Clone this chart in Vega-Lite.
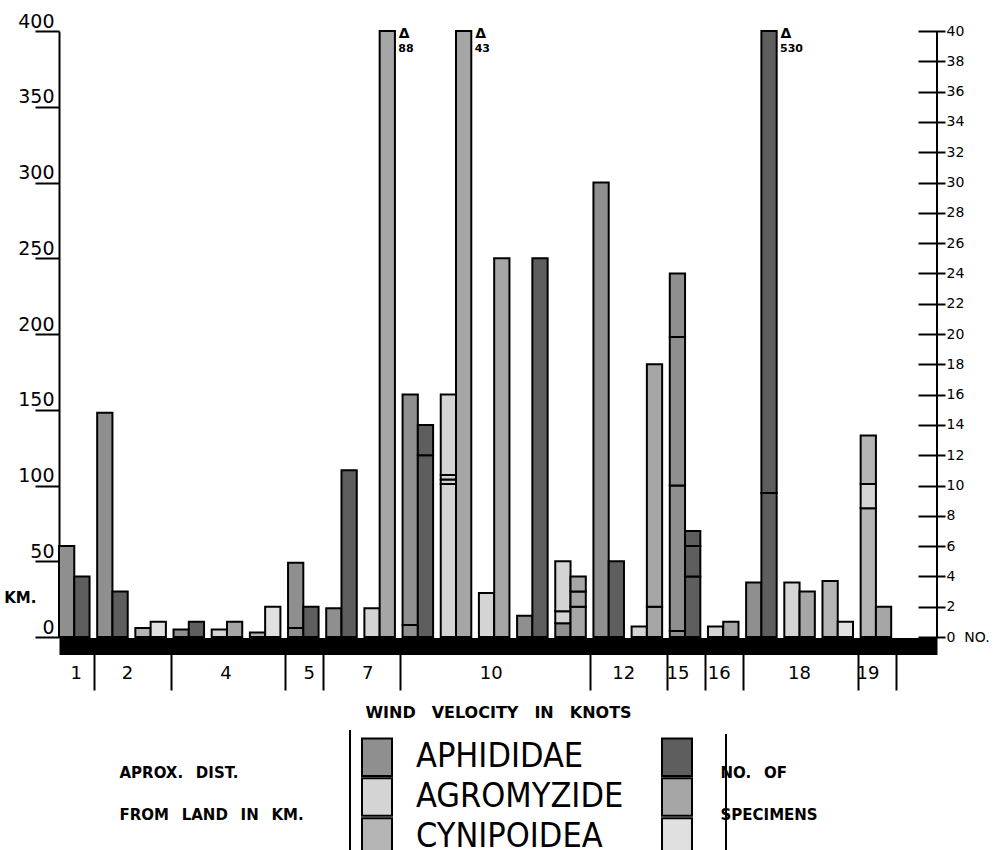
{
  "$schema": "https://vega.github.io/schema/vega-lite/v6.json",
  "width": 878,
  "height": 606,
  "autosize": "none",
  "padding": {"left": 59, "top": 31, "right": 58, "bottom": 213},
  "background": "white",
  "config": {
    "view": {"stroke": null}, "font": "DejaVu Sans", "text": {"font": "DejaVu Sans", "color": "black"},
    "axis": {"labelOverlap": false}
  },
  "datasets": {
    "km": [
      {"pair": 1, "velocity": 1, "cat": "APHIDIDAE km", "measure": "km", "seg": 1, "value": 60},
      {"pair": 2, "velocity": 2, "cat": "APHIDIDAE km", "measure": "km", "seg": 1, "value": 148},
      {"pair": 3, "velocity": 2, "cat": "CYNIPOIDEA km", "measure": "km", "seg": 1, "value": 6},
      {"pair": 4, "velocity": 4, "cat": "APHIDIDAE km", "measure": "km", "seg": 1, "value": 5},
      {"pair": 5, "velocity": 4, "cat": "AGROMYZIDE km", "measure": "km", "seg": 1, "value": 5},
      {"pair": 6, "velocity": 4, "cat": "CYNIPOIDEA km", "measure": "km", "seg": 1, "value": 3},
      {"pair": 7, "velocity": 5, "cat": "APHIDIDAE km", "measure": "km", "seg": 1, "value": 6},
      {"pair": 7, "velocity": 5, "cat": "APHIDIDAE km", "measure": "km", "seg": 2, "value": 43},
      {"pair": 8, "velocity": 7, "cat": "APHIDIDAE km", "measure": "km", "seg": 1, "value": 19},
      {"pair": 9, "velocity": 7, "cat": "AGROMYZIDE km", "measure": "km", "seg": 1, "value": 19},
      {"pair": 10, "velocity": 10, "cat": "APHIDIDAE km", "measure": "km", "seg": 1, "value": 8},
      {"pair": 10, "velocity": 10, "cat": "APHIDIDAE km", "measure": "km", "seg": 2, "value": 152},
      {"pair": 11, "velocity": 10, "cat": "AGROMYZIDE km", "measure": "km", "seg": 1, "value": 101},
      {"pair": 11, "velocity": 10, "cat": "AGROMYZIDE km", "measure": "km", "seg": 2, "value": 3},
      {"pair": 11, "velocity": 10, "cat": "AGROMYZIDE km", "measure": "km", "seg": 3, "value": 3},
      {"pair": 11, "velocity": 10, "cat": "AGROMYZIDE km", "measure": "km", "seg": 4, "value": 53},
      {"pair": 12, "velocity": 10, "cat": "AGROMYZIDE km", "measure": "km", "seg": 1, "value": 29},
      {"pair": 13, "velocity": 10, "cat": "APHIDIDAE km", "measure": "km", "seg": 1, "value": 14},
      {"pair": 14, "velocity": 10, "cat": "APHIDIDAE km", "measure": "km", "seg": 1, "value": 9},
      {"pair": 14, "velocity": 10, "cat": "AGROMYZIDE km", "measure": "km", "seg": 2, "value": 8},
      {"pair": 14, "velocity": 10, "cat": "AGROMYZIDE km", "measure": "km", "seg": 3, "value": 33},
      {"pair": 15, "velocity": 12, "cat": "APHIDIDAE km", "measure": "km", "seg": 1, "value": 300},
      {"pair": 16, "velocity": 12, "cat": "AGROMYZIDE km", "measure": "km", "seg": 1, "value": 7},
      {"pair": 17, "velocity": 15, "cat": "APHIDIDAE km", "measure": "km", "seg": 1, "value": 4},
      {"pair": 17, "velocity": 15, "cat": "APHIDIDAE km", "measure": "km", "seg": 2, "value": 96},
      {"pair": 17, "velocity": 15, "cat": "APHIDIDAE km", "measure": "km", "seg": 3, "value": 98},
      {"pair": 17, "velocity": 15, "cat": "APHIDIDAE km", "measure": "km", "seg": 4, "value": 42},
      {"pair": 18, "velocity": 16, "cat": "AGROMYZIDE km", "measure": "km", "seg": 1, "value": 7},
      {"pair": 19, "velocity": 18, "cat": "APHIDIDAE km", "measure": "km", "seg": 1, "value": 36},
      {"pair": 20, "velocity": 18, "cat": "AGROMYZIDE km", "measure": "km", "seg": 1, "value": 36},
      {"pair": 21, "velocity": 18, "cat": "CYNIPOIDEA km", "measure": "km", "seg": 1, "value": 37},
      {"pair": 22, "velocity": 19, "cat": "CYNIPOIDEA km", "measure": "km", "seg": 1, "value": 85},
      {"pair": 22, "velocity": 19, "cat": "AGROMYZIDE km", "measure": "km", "seg": 2, "value": 16},
      {"pair": 22, "velocity": 19, "cat": "CYNIPOIDEA km", "measure": "km", "seg": 3, "value": 32}
    ],
    "no": [
      {"pair": 1, "velocity": 1, "cat": "APHIDIDAE no", "measure": "no", "seg": 1, "value": 4},
      {"pair": 2, "velocity": 2, "cat": "APHIDIDAE no", "measure": "no", "seg": 1, "value": 3},
      {"pair": 3, "velocity": 2, "cat": "CYNIPOIDEA no", "measure": "no", "seg": 1, "value": 1},
      {"pair": 4, "velocity": 4, "cat": "APHIDIDAE no", "measure": "no", "seg": 1, "value": 1},
      {"pair": 5, "velocity": 4, "cat": "AGROMYZIDE no", "measure": "no", "seg": 1, "value": 1},
      {"pair": 6, "velocity": 4, "cat": "CYNIPOIDEA no", "measure": "no", "seg": 1, "value": 2},
      {"pair": 7, "velocity": 5, "cat": "APHIDIDAE no", "measure": "no", "seg": 1, "value": 2},
      {"pair": 8, "velocity": 7, "cat": "APHIDIDAE no", "measure": "no", "seg": 1, "value": 11},
      {"pair": 9, "velocity": 7, "cat": "AGROMYZIDE no", "measure": "no", "seg": 1, "value": 88},
      {"pair": 10, "velocity": 10, "cat": "APHIDIDAE no", "measure": "no", "seg": 1, "value": 12},
      {"pair": 10, "velocity": 10, "cat": "APHIDIDAE no", "measure": "no", "seg": 2, "value": 2},
      {"pair": 11, "velocity": 10, "cat": "AGROMYZIDE no", "measure": "no", "seg": 1, "value": 43},
      {"pair": 12, "velocity": 10, "cat": "AGROMYZIDE no", "measure": "no", "seg": 1, "value": 25},
      {"pair": 13, "velocity": 10, "cat": "APHIDIDAE no", "measure": "no", "seg": 1, "value": 25},
      {"pair": 14, "velocity": 10, "cat": "AGROMYZIDE no", "measure": "no", "seg": 1, "value": 2},
      {"pair": 14, "velocity": 10, "cat": "AGROMYZIDE no", "measure": "no", "seg": 2, "value": 1},
      {"pair": 14, "velocity": 10, "cat": "AGROMYZIDE no", "measure": "no", "seg": 3, "value": 1},
      {"pair": 15, "velocity": 12, "cat": "APHIDIDAE no", "measure": "no", "seg": 1, "value": 5},
      {"pair": 16, "velocity": 12, "cat": "AGROMYZIDE no", "measure": "no", "seg": 1, "value": 2},
      {"pair": 16, "velocity": 12, "cat": "AGROMYZIDE no", "measure": "no", "seg": 2, "value": 16},
      {"pair": 17, "velocity": 15, "cat": "APHIDIDAE no", "measure": "no", "seg": 1, "value": 4},
      {"pair": 17, "velocity": 15, "cat": "APHIDIDAE no", "measure": "no", "seg": 2, "value": 2},
      {"pair": 17, "velocity": 15, "cat": "APHIDIDAE no", "measure": "no", "seg": 3, "value": 1},
      {"pair": 18, "velocity": 16, "cat": "AGROMYZIDE no", "measure": "no", "seg": 1, "value": 1},
      {"pair": 19, "velocity": 18, "cat": "APHIDIDAE no", "measure": "no", "seg": 1, "value": 9.5},
      {"pair": 19, "velocity": 18, "cat": "APHIDIDAE no", "measure": "no", "seg": 2, "value": 520.5},
      {"pair": 20, "velocity": 18, "cat": "AGROMYZIDE no", "measure": "no", "seg": 1, "value": 3},
      {"pair": 21, "velocity": 18, "cat": "CYNIPOIDEA no", "measure": "no", "seg": 1, "value": 1},
      {"pair": 22, "velocity": 19, "cat": "AGROMYZIDE no", "measure": "no", "seg": 1, "value": 2}
    ],
    "beyond": [
      {"pair": 9, "measure": "no", "total": 88},
      {"pair": 11, "measure": "no", "total": 43},
      {"pair": 19, "measure": "no", "total": 530}
    ]
  },
  "layer": [
    {
      "data": {"name": "km"},
      "mark": {"type": "bar", "stroke": "black", "strokeWidth": 2},
      "encoding": {
        "x": {
          "field": "pair", "type": "ordinal",
          "scale": {"domain": [1,2,3,4,5,6,7,8,9,10,11,12,13,14,15,16,17,18,19,20,21,22,23], "paddingInner": 0.2, "paddingOuter": 0.1, "align": 0},
          "axis": {
            "orient": "bottom", "offset": 9, "domainColor": "black", "domainWidth": 17,
            "bandPosition": -0.08, "grid": false,
            "tickSize": 44, "tickWidth": 2, "tickColor": "black",
            "tickOpacity": {"condition": {"test": "indexof([2,4,7,8,10,15,17,18,19,22,23], datum.value) >= 0", "value": 1}, "value": 0},
            "labelExpr": "datum.value==1?'1':datum.value==2?'2':datum.value==5?'4':datum.value==7?'5':datum.value==9?'7':datum.value==12?'10':datum.value==15?'12':datum.value==17?'15':datum.value==18?'16':datum.value==20?'18':datum.value==22?'19':''",
            "labelOffset": {"condition": [
              {"test": "datum.value==1", "value": 2},
              {"test": "datum.value==2", "value": 15},
              {"test": "datum.value==5", "value": -1},
              {"test": "datum.value==7", "value": 6},
              {"test": "datum.value==9", "value": -12},
              {"test": "datum.value==12", "value": -3},
              {"test": "datum.value==15", "value": 15},
              {"test": "datum.value==17", "value": -7},
              {"test": "datum.value==18", "value": -4},
              {"test": "datum.value==22", "value": -8}
            ], "value": 0},
            "labelAngle": 0, "labelPadding": -17, "labelBaseline": "middle", "labelAlign": "center",
            "labelFontSize": 18, "labelFont": "DejaVu Sans", "labelColor": "black", "labelOverlap": false,
            "title": "WIND\u2003VELOCITY\u2003IN\u2003KNOTS",
            "titleY": 66, "titleBaseline": "middle", "titleFontSize": 16, "titleFontWeight": "bold", "titleFont": "DejaVu Sans", "titleColor": "black"
          }
        },
        "xOffset": {"field": "measure", "type": "nominal", "scale": {"domain": ["km", "no"], "paddingInner": 0, "paddingOuter": 0}},
        "y": {
          "field": "value", "type": "quantitative", "stack": "zero",
          "scale": {"domain": [0, 400], "nice": false},
          "axis": {
            "orient": "left", "values": [0, 26, 50, 100, 150, 200, 250, 300, 350, 400],
            "grid": false, "domainColor": "black", "domainWidth": 2,
            "tickSize": 24, "tickWidth": 2, "tickColor": "black",
            "tickOpacity": {"condition": {"test": "datum.value==26", "value": 0}, "value": 1},
            "labelExpr": "datum.value==26 ? 'KM.' : datum.label",
            "labelAlign": "right",
            "labelBaseline": {"condition": {"test": "datum.value==26", "value": "middle"}, "value": "bottom"},
            "labelPadding": {"condition": {"test": "datum.value==26", "value": -1}, "value": -19},
            "labelFontSize": {"condition": {"test": "datum.value==26", "value": 15}, "value": 19},
            "labelFontWeight": {"condition": {"test": "datum.value==26", "value": "bold"}, "value": "normal"},
            "labelFont": "DejaVu Sans", "labelColor": "black", "labelOverlap": false,
            "title": ["APROX.\u2002 DIST.", "FROM\u2002 LAND\u2002 IN\u2002 KM."],
            "titleAngle": 0, "titleAlign": "left", "titleBaseline": "top", "titleX": 60, "titleY": 734,
            "titleLineHeight": 42, "titleFontSize": 15, "titleFontWeight": "bold", "titleFont": "DejaVu Sans", "titleColor": "black"
          }
        },
        "fill": {
          "field": "cat", "type": "nominal",
          "scale": {
            "domain": ["APHIDIDAE km", "AGROMYZIDE km", "CYNIPOIDEA km", "APHIDIDAE no", "AGROMYZIDE no", "CYNIPOIDEA no"],
            "range": ["#8f8f8f", "#d4d4d4", "#b4b4b4", "#5e5e5e", "#a6a6a6", "#e0e0e0"]
          },
          "legend": {
            "orient": "none", "legendX": 291, "legendY": 699, "direction": "vertical",
            "columns": 2, "columnPadding": 34, "rowPadding": -9, "padding": 10,
            "strokeColor": "black",
            "symbolType": "M-1,-1.25H1V1.25H-1Z", "symbolSize": 900,
            "symbolStrokeColor": "black", "symbolStrokeWidth": 2, "symbolOpacity": 1,
            "labelFont": "Liberation Sans Narrow, DejaVu Sans Condensed, DejaVu Sans", "labelFontSize": 34,
            "labelOffset": 22, "labelLimit": 500, "labelColor": "black",
            "labelExpr": "indexof(datum.label, ' km') > 0 ? replace(datum.label, ' km', '') : ''",
            "title": null,
            "encode": {
              "legend": {"update": {"strokeWidth": {"value": 2}, "strokeDash": {"value": [0, 380, 5000]}}}
            }
          }
        },
        "order": {"field": "seg", "type": "quantitative"}
      }
    },
    {
      "data": {"name": "no"},
      "mark": {"type": "bar", "stroke": "black", "strokeWidth": 2},
      "encoding": {
        "x": {"field": "pair", "type": "ordinal", "scale": {"domain": [1,2,3,4,5,6,7,8,9,10,11,12,13,14,15,16,17,18,19,20,21,22,23], "paddingInner": 0.2, "paddingOuter": 0.1, "align": 0}},
        "xOffset": {"field": "measure", "type": "nominal", "scale": {"domain": ["km", "no"], "paddingInner": 0, "paddingOuter": 0}},
        "y": {
          "field": "value", "type": "quantitative", "stack": "zero",
          "scale": {"domain": [0, 40], "nice": false, "clamp": true},
          "axis": {
            "orient": "right", "values": [0,1,2,3,4,5,6,7,8,9,10,11,12,13,14,15,16,17,18,19,20,21,22,23,24,25,26,27,28,29,30,31,32,33,34,35,36,37,38,39,40],
            "tickCount": 40,
            "offset": -19, "domain": false, "grid": false,
            "tickSize": 27, "tickWidth": 2, "tickColor": "black",
            "labelPadding": 1, "labelFontSize": 14, "labelFont": "DejaVu Sans", "labelColor": "black",
            "labelBaseline": "middle", "labelAlign": "left", "labelOverlap": false,
            "labelExpr": "datum.value==0 ? '0\u00a0\u00a0NO.' : datum.label",
            "title": ["NO.\u2002 OF", "SPECIMENS"],
            "titleAngle": 0, "titleAlign": "left", "titleBaseline": "top", "titleX": -198, "titleY": 734,
            "titleLineHeight": 42, "titleFontSize": 15, "titleFontWeight": "bold", "titleFont": "DejaVu Sans", "titleColor": "black"
          }
        },
        "fill": {"field": "cat", "type": "nominal"},
        "order": {"field": "seg", "type": "quantitative"}
      }
    },
    {
      "data": {"name": "beyond"},
      "mark": {"type": "text", "text": "Δ", "dx": 17, "dy": 3, "fontSize": 14, "fontWeight": "bold", "align": "center", "baseline": "middle", "color": "black"},
      "encoding": {
        "x": {"field": "pair", "type": "ordinal", "scale": {"domain": [1,2,3,4,5,6,7,8,9,10,11,12,13,14,15,16,17,18,19,20,21,22,23], "paddingInner": 0.2, "paddingOuter": 0.1, "align": 0}},
        "xOffset": {"field": "measure", "type": "nominal", "scale": {"domain": ["km", "no"], "paddingInner": 0, "paddingOuter": 0}},
        "y": {"field": "total", "type": "quantitative", "scale": {"domain": [0, 40], "nice": false, "clamp": true}, "axis": null}
      }
    },
    {
      "data": {"name": "beyond"},
      "mark": {"type": "text", "dx": 11, "dy": 18, "fontSize": 11, "fontWeight": "bold", "align": "left", "baseline": "middle", "color": "black"},
      "encoding": {
        "x": {"field": "pair", "type": "ordinal", "scale": {"domain": [1,2,3,4,5,6,7,8,9,10,11,12,13,14,15,16,17,18,19,20,21,22,23], "paddingInner": 0.2, "paddingOuter": 0.1, "align": 0}},
        "xOffset": {"field": "measure", "type": "nominal", "scale": {"domain": ["km", "no"], "paddingInner": 0, "paddingOuter": 0}},
        "y": {"field": "total", "type": "quantitative", "scale": {"domain": [0, 40], "nice": false, "clamp": true}, "axis": null},
        "text": {"field": "total", "type": "quantitative", "format": "d"}
      }
    },
    {
      "data": {"values": [{"line": "right axis"}]},
      "mark": {"type": "rule", "strokeWidth": 2, "color": "black"},
      "encoding": {
        "x": {"value": "width"},
        "y": {"datum": 0, "type": "quantitative", "scale": {"domain": [0, 40], "nice": false}, "axis": null},
        "y2": {"datum": 40}
      }
    }
  ],
  "resolve": {"scale": {"y": "independent"}}
}
